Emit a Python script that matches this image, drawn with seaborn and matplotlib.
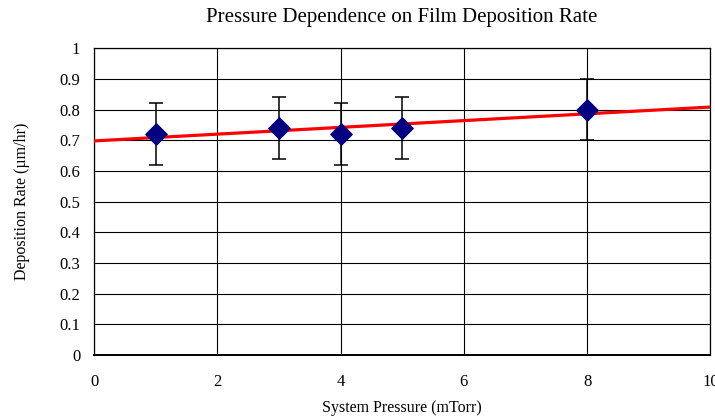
import numpy as np
import pandas as pd

import matplotlib
matplotlib.use('Agg')
import matplotlib.pyplot as plt
from matplotlib.ticker import FuncFormatter

import seaborn as sns

# measured values
pressure = [1, 3, 4, 5, 8]          # mTorr
rate = [0.72, 0.74, 0.72, 0.74, 0.80]  # um/hr
rate_err = [0.10, 0.10, 0.10, 0.10, 0.10]

x_ticks = [0, 2, 4, 6, 8, 10]
y_ticks = [0, 0.1, 0.2, 0.3, 0.4, 0.5, 0.6, 0.7, 0.8, 0.9, 1.0]


def plot_deposition():
    sns.set_style('white')
    plt.rcParams['font.family'] = ['Liberation Serif', 'DejaVu Serif']
    plt.rcParams['text.color'] = 'black'
    plt.rcParams['axes.labelcolor'] = 'black'

    df = pd.DataFrame({'pressure': pressure, 'rate': rate, 'err': rate_err})

    # linear trendline through the points, drawn across the full axis
    slope, intercept = np.polyfit(df['pressure'], df['rate'], 1)
    trend = pd.DataFrame({'pressure': [x_ticks[0], x_ticks[-1]]})
    trend['rate'] = slope * trend['pressure'] + intercept

    fig = plt.figure(figsize=(7.15, 4.19), dpi=100)
    ax = fig.add_axes([0.1315, 0.153, 0.862, 0.732])

    ax.errorbar(df['pressure'], df['rate'], yerr=df['err'], fmt='none',
                ecolor='black', elinewidth=1.1, capsize=5, capthick=1.1,
                zorder=3)
    sns.lineplot(data=trend, x='pressure', y='rate', ax=ax, color='#ff0000',
                 linewidth=2.3, zorder=4)
    sns.scatterplot(data=df, x='pressure', y='rate', ax=ax, marker='D',
                    s=120, color='#000080', edgecolor='#000080', zorder=5)

    ax.set_xlim(0, 10)
    ax.set_ylim(0, 1)
    ax.set_xticks(x_ticks)
    ax.set_yticks(y_ticks)
    ax.yaxis.set_major_formatter(FuncFormatter(lambda y, _: '{:g}'.format(round(y, 1))))
    ax.grid(True, color='black', linewidth=0.8)
    ax.set_axisbelow(True)
    for sp in ax.spines.values():
        sp.set_color('black')
        sp.set_linewidth(0.9)
    ax.spines['bottom'].set_linewidth(1.4)
    ax.tick_params(axis='both', direction='out', length=5, width=0.9,
                   colors='black', labelsize=12, pad=5)
    ax.tick_params(axis='x', pad=9)

    ax.set_xlabel('System Pressure (mTorr)', fontsize=11.5, labelpad=7)
    ax.set_ylabel('Deposition Rate (\u00b5m/hr)', fontsize=11.5, labelpad=21)
    ax.set_title('Pressure Dependence on Film Deposition Rate', fontsize=15, pad=19)
    return fig


def main():
    fig = plot_deposition()
    fig.savefig('out.png', dpi=100)
    plt.close('all')


if __name__ == '__main__':
    main()
